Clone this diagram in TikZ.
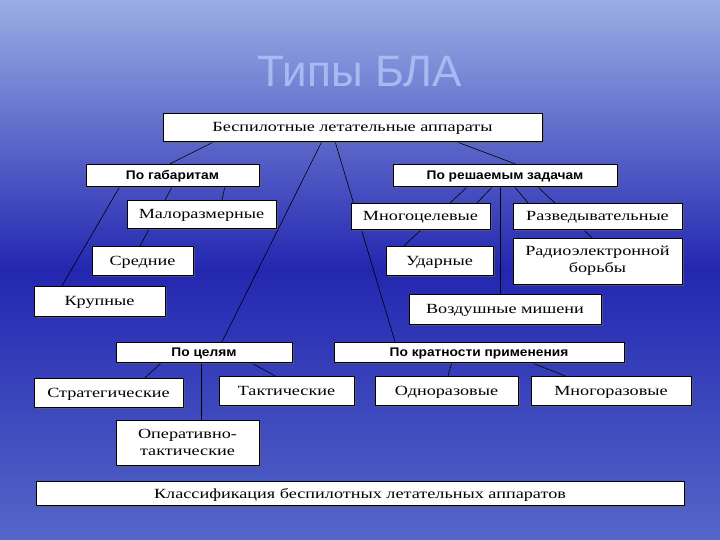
\documentclass[tikz,border=0pt]{standalone}
\usepackage{fontspec}
\setmainfont{Liberation Serif}[FakeStretch=1.3]
\newfontfamily\titlefont{Liberation Sans}
\newfontfamily\hdfont{Liberation Sans}[FakeStretch=1.1]
\usetikzlibrary{backgrounds,shadows}
\pgfdeclarelayer{deepbg}
\pgfsetlayers{deepbg,background,main}
\definecolor{bgtop}{HTML}{9AAEE4}
\definecolor{bgmid}{HTML}{2327B0}
\definecolor{bgbot}{HTML}{5566C8}
\definecolor{titlec}{HTML}{A9B9F2}
\tikzset{
  box/.style={draw=black, fill=white, inner sep=0pt, text depth=0pt, font=\fontsize{14}{16}\selectfont, drop shadow={shadow xshift=2pt,shadow yshift=-2pt,fill=black!60,opacity=0.6}},
  mbox/.style={box, align=center, text depth=, font=\fontsize{14}{17}\selectfont},
  hbox/.style={box, font=\hdfont\bfseries\fontsize{12.5}{13}\selectfont},
  conn/.style={draw=black, line width=0.6pt}
}
\begin{document}
\begin{tikzpicture}[x=1pt,y=1pt]
\begin{pgfonlayer}{deepbg}
\shade[top color=bgtop, bottom color=bgbot, middle color=bgmid] (0,0) rectangle (720,-540);
\end{pgfonlayer}
\useasboundingbox (0,0) rectangle (720,-540);
\node[font=\titlefont\fontsize{44}{46}\selectfont, text=titlec] (title) at (360,-72) {Типы БЛА};
\node[box,minimum width=379pt,minimum height=28pt] (root) at (352.5,-127) {Беспилотные летательные аппараты};
\node[hbox,minimum width=173pt,minimum height=22pt] (gab) at (172.5,-175) {По габаритам};
\node[hbox,minimum width=224pt,minimum height=22pt] (resh) at (505,-175) {По решаемым задачам};
\node[box,minimum width=149pt,minimum height=28pt] (malo) at (201.5,-214) {Малоразмерные};
\node[box,minimum width=101pt,minimum height=29pt] (sred) at (142.5,-260.5) {Средние};
\node[box,minimum width=131pt,minimum height=30pt] (krup) at (99.5,-301) {Крупные};
\node[box,minimum width=139pt,minimum height=26pt] (mnogoc) at (420.5,-216) {Многоцелевые};
\node[box,minimum width=169pt,minimum height=26pt] (razv) at (597.5,-216) {Разведывательные};
\node[box,minimum width=107pt,minimum height=29pt] (udar) at (439.5,-260.5) {Ударные};
\node[mbox,minimum width=169pt,minimum height=46pt] (radio) at (597.5,-261) {Радиоэлектронной\\борьбы};
\node[box,minimum width=192pt,minimum height=30pt] (vozd) at (505,-309) {Воздушные мишени};
\node[hbox,minimum width=176pt,minimum height=20pt] (cel) at (204,-352) {По целям};
\node[hbox,minimum width=290pt,minimum height=20pt] (krat) at (479,-352) {По кратности применения};
\node[box,minimum width=149pt,minimum height=29pt] (strat) at (108.5,-392.5) {Стратегические};
\node[box,minimum width=135pt,minimum height=29pt] (takt) at (286.5,-390.5) {Тактические};
\node[box,minimum width=143pt,minimum height=29pt] (odno) at (446.5,-390.5) {Одноразовые};
\node[box,minimum width=160pt,minimum height=29pt] (mnogor) at (611,-390.5) {Многоразовые};
\node[mbox,minimum width=143pt,minimum height=45pt] (oper) at (187.5,-442.5) {Оперативно-\\тактические};
\node[box,minimum width=648pt,minimum height=24pt] (bottom) at (360,-493) {Классификация беспилотных летательных аппаратов};
\begin{pgfonlayer}{background}
\draw[conn] ([xshift=-137.5pt]root.south) -- ([xshift=-2.5pt]gab.north);
\draw[conn] ([xshift=-30.5pt]root.south) -- ([xshift=18pt]cel.north);
\draw[conn] ([xshift=-17.5pt]root.south) -- ([xshift=-84pt]krat.north);
\draw[conn] ([xshift=102.5pt]root.south) -- ([xshift=10pt]resh.north);
\draw[conn] ([xshift=-52.5pt]gab.south) -- ([xshift=-37.5pt]krup.north);
\draw[conn] (gab.south) -- ([xshift=-2.5pt]sred.north);
\draw[conn] ([xshift=52.5pt]gab.south) -- ([xshift=20.5pt]malo.north);
\draw[conn] ([xshift=-37pt]resh.south) -- ([xshift=-35.5pt]udar.north);
\draw[conn] ([xshift=-12pt]resh.south) -- ([xshift=56.5pt]mnogoc.north);
\draw[conn] ([xshift=-5pt]resh.south) -- ([xshift=-5pt]vozd.north);
\draw[conn] ([xshift=9pt]resh.south) -- ([xshift=-69.5pt]razv.north);
\draw[conn] ([xshift=32pt]resh.south) -- ([xshift=-5.5pt]radio.north);
\draw[conn] ([xshift=-42pt]cel.south) -- ([xshift=36.5pt]strat.north);
\draw[conn] ([xshift=-3pt]cel.south) -- ([xshift=13.5pt]oper.north);
\draw[conn] ([xshift=46pt]cel.south) -- ([xshift=-11.5pt]takt.north);
\draw[conn] ([xshift=-27pt]krat.south) -- ([xshift=1.5pt]odno.north);
\draw[conn] ([xshift=51pt]krat.south) -- ([xshift=-46pt]mnogor.north);
\end{pgfonlayer}
\end{tikzpicture}
\end{document}
